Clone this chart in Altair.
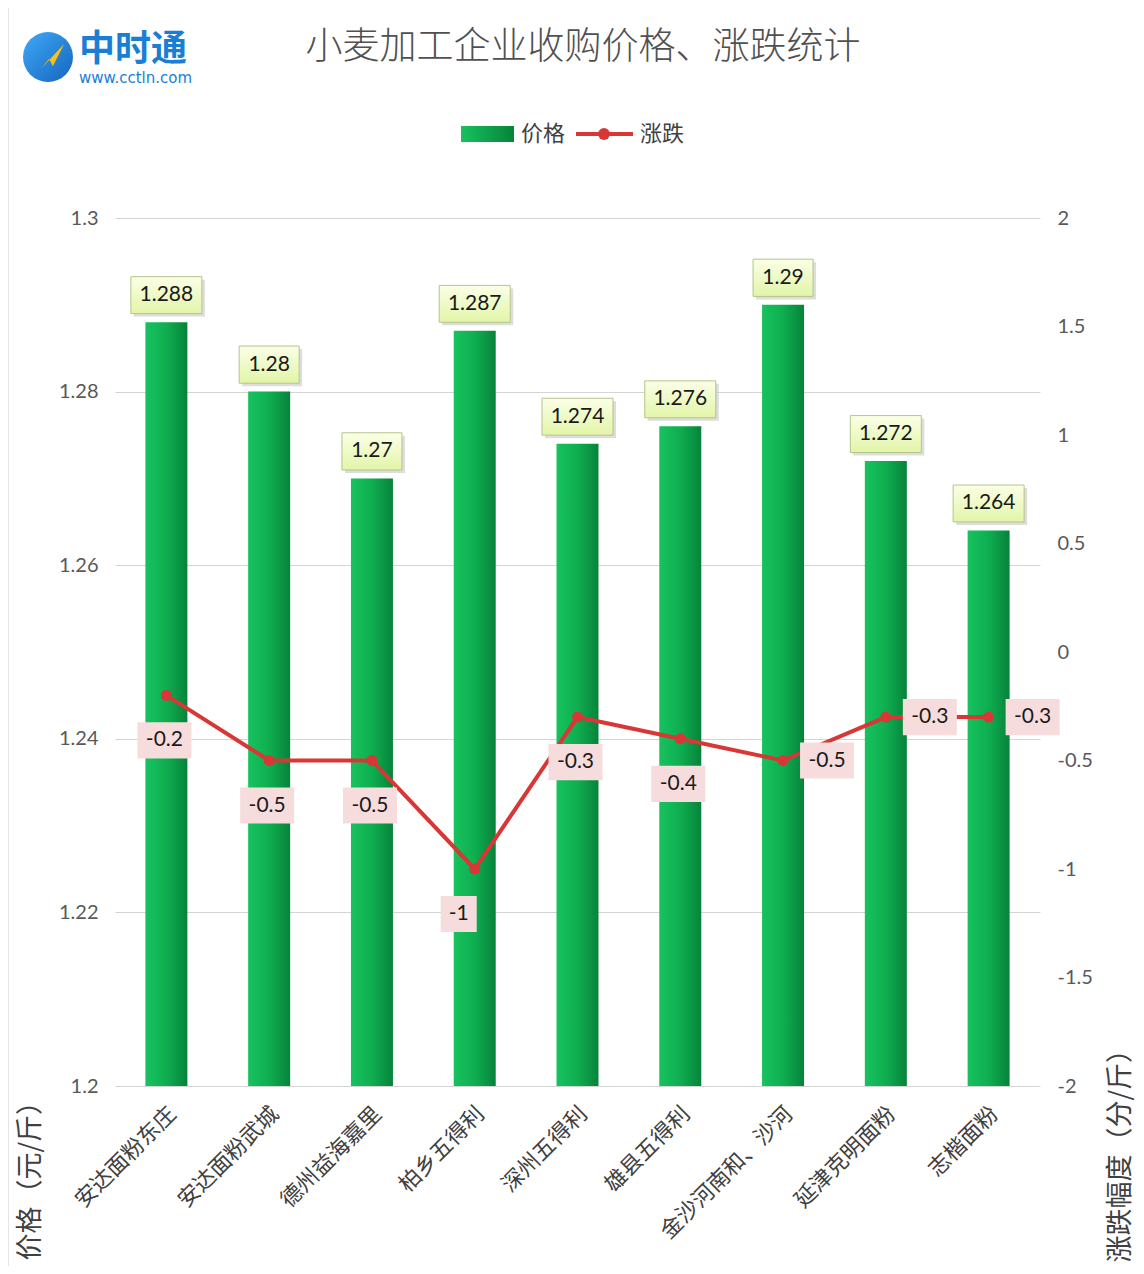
import altair as alt
import pandas as pd

names = ["安达面粉东庄", "安达面粉武城", "德州益海嘉里", "柏乡五得利", "深州五得利",
         "雄县五得利", "金沙河南和、沙河", "延津克明面粉", "志楷面粉"]
prices = [1.288, 1.28, 1.27, 1.287, 1.274, 1.276, 1.29, 1.272, 1.264]
changes = [-0.2, -0.5, -0.5, -1, -0.3, -0.4, -0.5, -0.3, -0.3]
left_ticks = [1.2, 1.22, 1.24, 1.26, 1.28, 1.3]
right_ticks = [-2, -1.5, -1, -0.5, 0, 0.5, 1, 1.5, 2]

df = pd.DataFrame({
    "name": names,
    "price": prices,
    "change": changes,
    "idx": list(range(len(names))),
    "plabel": [f"{p:g}" for p in prices],
    "clabel": [f"{c:g}" for c in changes],
})

W, H = 925, 868
NUM_FONT = "Lato"
CJK = "Noto Sans CJK SC"
TXT = "#404040"

x_axis = alt.Axis(title=None, labelAngle=-45, labelAlign="right",
                  labelBaseline="middle", labelPadding=24, labelOffset=6,
                  labelFont=CJK, labelFontSize=22, labelColor=TXT,
                  domain=False, ticks=False, grid=False, labelLimit=300)
x_scale = alt.Scale(paddingInner=0, paddingOuter=0)


def X():
    return alt.X("name:N", sort=names, scale=x_scale, axis=x_axis)


yL = alt.Scale(domain=[1.2, 1.3], nice=False, zero=False)
yR = alt.Scale(domain=[-2, 2], nice=False, zero=False)

left_axis = alt.Axis(orient="left", values=left_ticks, format=".2~f",
                     title="价格（元/斤）", titleFont=CJK, titleFontSize=27,
                     titleFontWeight="normal", titleColor=TXT,
                     titleAngle=-90, titleAlign="left", titleBaseline="middle",
                     titleX=-85, titleY=1042,
                     labelFont=NUM_FONT, labelFontSize=20, labelColor="#595959",
                     labelPadding=17, domain=False, ticks=False,
                     grid=True, gridColor="#d4d4d4", gridWidth=1)
right_axis = alt.Axis(orient="right", values=right_ticks, format="~g",
                      labelExpr="replace(datum.label, '\u2212', '-')",
                      title="涨跌幅度（分/斤）", titleFont=CJK, titleFontSize=27,
                      titleFontWeight="normal", titleColor=TXT,
                      titleAngle=-90, titleAlign="left", titleBaseline="middle",
                      titleX=80, titleY=1044,
                      labelFont=NUM_FONT, labelFontSize=20, labelColor="#595959",
                      labelPadding=17, domain=False, ticks=False, grid=False)


def YL():
    return alt.Y("price:Q", scale=yL, axis=left_axis)


def YR():
    return alt.Y("change:Q", scale=yR, axis=right_axis)


bar_grad = alt.Gradient(gradient="linear", x1=0, x2=1, y1=0, y2=0,
                        stops=[alt.GradientStop(color="#17c25e", offset=0),
                               alt.GradientStop(color="#0fae50", offset=0.5),
                               alt.GradientStop(color="#06833a", offset=1)])

bars = alt.Chart(df).mark_bar(size=42, fill=bar_grad).encode(
    x=X(), y=YL(), y2=alt.datum(1.2))

box_grad = alt.Gradient(gradient="linear", x1=0, x2=0, y1=0, y2=1,
                        stops=[alt.GradientStop(color="#fbffe6", offset=0),
                               alt.GradientStop(color="#e2f5a8", offset=1)])

long_box = "M-1,-0.52H1V0.52H-1Z"
short_box = "M-1,-0.62H1V0.62H-1Z"

lab_base = alt.Chart(df).encode(x=X(), y=YL())

long_f = "length(datum.plabel) > 4"
short_f = "length(datum.plabel) <= 4"

shadow_long = lab_base.transform_filter(long_f).mark_point(
    shape=long_box, size=71 * 71, filled=True, fill="#cfcfcf", opacity=0.7,
    strokeWidth=0, xOffset=3, yOffset=-24)
shadow_short = lab_base.transform_filter(short_f).mark_point(
    shape=short_box, size=60 * 60, filled=True, fill="#cfcfcf", opacity=0.7,
    strokeWidth=0, xOffset=3, yOffset=-24)
box_long = lab_base.transform_filter(long_f).mark_point(
    shape=long_box, size=71 * 71, filled=True, fill=box_grad, opacity=1,
    stroke="#b4c48c", strokeWidth=1, yOffset=-27)
box_short = lab_base.transform_filter(short_f).mark_point(
    shape=short_box, size=60 * 60, filled=True, fill=box_grad, opacity=1,
    stroke="#b4c48c", strokeWidth=1, yOffset=-27)
bar_text = lab_base.mark_text(font=NUM_FONT, fontSize=21, color="#1a1a1a",
                              yOffset=-27, baseline="middle").encode(text="plabel:N")

left = alt.layer(bars, shadow_long, shadow_short, box_long, box_short, bar_text)

line_base = alt.Chart(df).encode(x=X(), y=YR())

line = line_base.mark_line(color="#d93636", strokeWidth=4)
pts = line_base.mark_point(shape="circle", size=120, filled=True, fill="#d93636",
                           opacity=1, strokeWidth=0)

box_pink = "#f6dcdc"
wide_c = "length(datum.clabel) > 2"
narrow_c = "length(datum.clabel) <= 2"
below = "datum.idx < 6"
right = "datum.idx >= 6"

cbox_below_w = line_base.transform_filter(below).transform_filter(wide_c).mark_point(
    shape="M-1,-0.67H1V0.67H-1Z", size=54 * 54, filled=True, fill=box_pink,
    opacity=1, strokeWidth=0, yOffset=45, xOffset=-2)
cbox_below_n = line_base.transform_filter(below).transform_filter(narrow_c).mark_point(
    shape="M-1,-1H1V1H-1Z", size=36 * 36, filled=True, fill=box_pink,
    opacity=1, strokeWidth=0, yOffset=45, xOffset=-16)
cbox_right = line_base.transform_filter(right).mark_point(
    shape="M-1,-0.67H1V0.67H-1Z", size=54 * 54, filled=True, fill=box_pink,
    opacity=1, strokeWidth=0, xOffset=44)
ctext_below_w = line_base.transform_filter(below).transform_filter(wide_c).mark_text(
    font=NUM_FONT, fontSize=21, color="#1a1a1a", yOffset=45, xOffset=-2).encode(text="clabel:N")
ctext_below_n = line_base.transform_filter(below).transform_filter(narrow_c).mark_text(
    font=NUM_FONT, fontSize=21, color="#1a1a1a", yOffset=45, xOffset=-16).encode(text="clabel:N")
ctext_right = line_base.transform_filter(right).mark_text(
    font=NUM_FONT, fontSize=21, color="#1a1a1a", xOffset=44).encode(text="clabel:N")

rightL = alt.layer(line, pts, cbox_below_w, cbox_below_n, cbox_right,
                   ctext_below_w, ctext_below_n, ctext_right)

one = pd.DataFrame({"a": [0]})
deco = alt.Chart(one)

frame = deco.mark_rect(fill=None, stroke="#cccccc", strokeWidth=1).encode(
    x=alt.value(-107), x2=alt.value(1028), y=alt.value(-217), y2=alt.value(1054))
title = deco.mark_text(font=CJK, fontSize=37, fontWeight=300, color="#505050", align="center",
                       baseline="middle").encode(
    x=alt.value(468), y=alt.value(-170), text=alt.value("小麦加工企业收购价格、涨跌统计"))
logo_circle = deco.mark_point(shape="circle", size=2500, filled=True, opacity=1,
                              fill=alt.Gradient(gradient="linear", x1=0, x2=1, y1=0, y2=1,
                                                stops=[alt.GradientStop(color="#3fa9f5", offset=0),
                                                       alt.GradientStop(color="#1565c0", offset=1)]),
                              strokeWidth=0).encode(x=alt.value(-67), y=alt.value(-161))
logo_arrow = deco.mark_point(shape="M-0.5,0.6L0.7,-0.7L0.1,0.5L-0.1,0.1Z", size=1400,
                             filled=True, fill="#f7c21b", opacity=1, strokeWidth=0).encode(
    x=alt.value(-64), y=alt.value(-161))
logo_text = deco.mark_text(font=CJK, fontSize=36, fontWeight="bold", color="#1a7fd4",
                           align="left", baseline="middle").encode(
    x=alt.value(-36), y=alt.value(-168), text=alt.value("中时通"))
logo_url = deco.mark_text(font="DejaVu Sans", fontSize=15, color="#1a7fd4",
                          align="left", baseline="middle").encode(
    x=alt.value(-36), y=alt.value(-140), text=alt.value("www.cctln.com"))

leg_rect = deco.mark_rect(fill=alt.Gradient(gradient="linear", x1=0, x2=1, y1=0, y2=0,
                                            stops=[alt.GradientStop(color="#17c25e", offset=0),
                                                   alt.GradientStop(color="#06833a", offset=1)])
                          ).encode(x=alt.value(346), x2=alt.value(399),
                                   y=alt.value(-92), y2=alt.value(-76))
leg_t1 = deco.mark_text(font=CJK, fontSize=22, color=TXT, align="left",
                        baseline="middle").encode(x=alt.value(406), y=alt.value(-84),
                                                  text=alt.value("价格"))
leg_line = deco.mark_rule(color="#d93636", strokeWidth=4).encode(
    x=alt.value(461), x2=alt.value(518), y=alt.value(-84))
leg_pt = deco.mark_point(shape="circle", size=140, filled=True, fill="#d93636",
                         opacity=1, strokeWidth=0).encode(x=alt.value(489), y=alt.value(-84))
leg_t2 = deco.mark_text(font=CJK, fontSize=22, color=TXT, align="left",
                        baseline="middle").encode(x=alt.value(525), y=alt.value(-84),
                                                  text=alt.value("涨跌"))

decos = alt.layer(frame, title, logo_circle, logo_arrow, logo_text, logo_url,
                  leg_rect, leg_t1, leg_line, leg_pt, leg_t2)

chart = alt.layer(left, rightL, decos).resolve_scale(y="independent").properties(
    width=W, height=H,
    autosize=alt.AutoSizeParams(type="none"),
    padding={"left": 107, "top": 210, "right": 96, "bottom": 180},
).configure(background="white").configure_view(stroke=None)

chart.save("out.html", embed_options={"renderer": "svg", "actions": False})
